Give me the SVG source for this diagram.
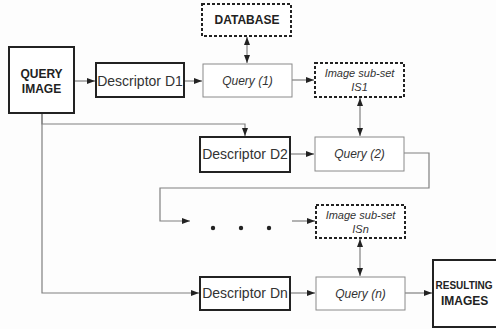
<svg xmlns="http://www.w3.org/2000/svg" width="496" height="329" viewBox="0 0 496 329">
<style>
.thick{fill:#fff;stroke:#222;stroke-width:2}
.thin{fill:#fff;stroke:#8a8a8a;stroke-width:1}
.dash{fill:#fff;stroke:#222;stroke-width:2;stroke-dasharray:3 2}
.bold{font-family:"Liberation Sans",Arial,sans-serif;font-weight:bold;font-size:12px;fill:#222}
.desc{font-family:"Liberation Sans",Arial,sans-serif;font-size:14px;fill:#333}
.it{font-family:"Liberation Sans",Arial,sans-serif;font-style:italic;font-size:12px;fill:#333}
.its{font-family:"Liberation Sans",Arial,sans-serif;font-style:italic;font-size:11px;fill:#333}
.c{fill:none;stroke:#808080;stroke-width:1.2}
</style>
<defs>
<marker id="ah" markerWidth="8" markerHeight="6" refX="8" refY="3" orient="auto" markerUnits="userSpaceOnUse">
<path d="M0,0 L8,3 L0,6 Z" fill="#222"/>
</marker>
<marker id="as" markerWidth="8" markerHeight="6" refX="0" refY="3" orient="auto" markerUnits="userSpaceOnUse">
<path d="M8,0 L0,3 L8,6 Z" fill="#222"/>
</marker>
</defs>
<rect width="496" height="329" fill="#fdfdfd"/>
<g id="connectors">
<line class="c" x1="74" y1="81" x2="95" y2="81" marker-end="url(#ah)"/>
<line class="c" x1="185" y1="81" x2="202" y2="81" marker-end="url(#ah)"/>
<line class="c" x1="247" y1="37" x2="247" y2="63" marker-start="url(#as)" marker-end="url(#ah)"/>
<line class="c" x1="292" y1="80" x2="314" y2="80" marker-end="url(#ah)"/>
<polyline class="c" points="42,113 42,124 245,124 245,136" marker-end="url(#ah)"/>
<line class="c" x1="360" y1="98" x2="360" y2="136" marker-start="url(#as)" marker-end="url(#ah)"/>
<line class="c" x1="291" y1="154" x2="314" y2="154" marker-end="url(#ah)"/>
<polyline class="c" points="404,153 429,153 429,188 160,188 160,221 190,221" marker-end="url(#ah)"/>
<line class="c" x1="292" y1="221" x2="315" y2="221" marker-end="url(#ah)"/>
<line class="c" x1="360" y1="239" x2="360" y2="276" marker-start="url(#as)" marker-end="url(#ah)"/>
<polyline class="c" points="42,113 42,293 199,293" marker-end="url(#ah)"/>
<line class="c" x1="291" y1="293" x2="315" y2="293" marker-end="url(#ah)"/>
<line class="c" x1="405" y1="293" x2="432" y2="293" marker-end="url(#ah)"/>
<circle cx="213" cy="228" r="2.2" fill="#222"/>
<circle cx="241" cy="228" r="2.2" fill="#222"/>
<circle cx="269" cy="228" r="2.2" fill="#222"/>
</g>
<g id="query-image">
<rect class="thick" x="9" y="47" width="65" height="66"/>
<text class="bold" x="41.5" y="78" text-anchor="middle">QUERY</text>
<text class="bold" x="41.5" y="93" text-anchor="middle">IMAGE</text>
</g>
<g id="database">
<rect class="dash" x="202" y="4" width="89" height="32"/>
<text class="bold" x="247" y="24" text-anchor="middle">DATABASE</text>
</g>
<g id="descriptor-d1">
<rect class="thick" x="96" y="63" width="88" height="34"/>
<text class="desc" x="140" y="86" text-anchor="middle">Descriptor D1</text>
</g>
<g id="query-1">
<rect class="thin" x="203" y="64" width="89" height="33"/>
<text class="it" x="247.5" y="85" text-anchor="middle">Query (1)</text>
</g>
<g id="subset-is1">
<rect class="dash" x="315" y="63" width="89" height="34"/>
<text class="its" x="359.5" y="77" text-anchor="middle">Image sub-set</text>
<text class="its" x="359.5" y="91" text-anchor="middle">IS1</text>
</g>
<g id="descriptor-d2">
<rect class="thick" x="200" y="137" width="90" height="35"/>
<text class="desc" x="245" y="159" text-anchor="middle">Descriptor D2</text>
</g>
<g id="query-2">
<rect class="thin" x="315" y="137" width="89" height="34"/>
<text class="it" x="359.5" y="158" text-anchor="middle">Query (2)</text>
</g>
<g id="subset-isn">
<rect class="dash" x="316" y="205" width="89" height="33"/>
<text class="its" x="360.5" y="219" text-anchor="middle">Image sub-set</text>
<text class="its" x="360.5" y="233" text-anchor="middle">ISn</text>
</g>
<g id="descriptor-dn">
<rect class="thick" x="200" y="277" width="90" height="33"/>
<text class="desc" x="245" y="298" text-anchor="middle">Descriptor Dn</text>
</g>
<g id="query-n">
<rect class="thin" x="316" y="277" width="89" height="33"/>
<text class="it" x="360.5" y="298" text-anchor="middle">Query (n)</text>
</g>
<g id="resulting-images">
<rect class="thick" x="433" y="260" width="70" height="67"/>
<text class="bold" x="435.5" y="289" style="font-size:10px">RESULTING</text>
<text class="bold" x="441" y="305">IMAGES</text>
</g>
</svg>
